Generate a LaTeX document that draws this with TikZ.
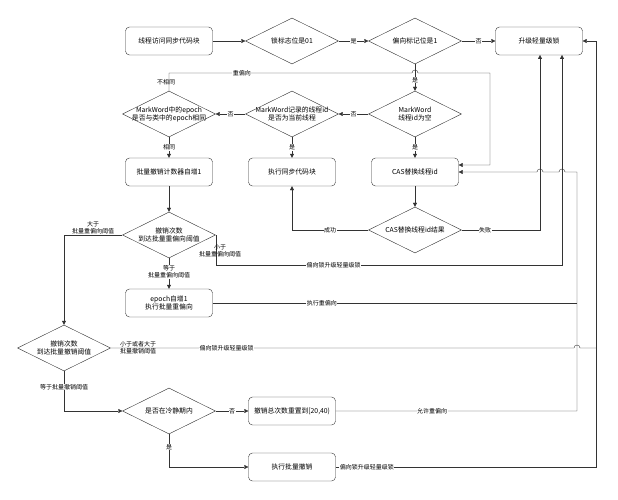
\documentclass[tikz,border=0pt]{standalone}
\usepackage{fontspec}
\setmainfont{Noto Sans CJK SC}
\usetikzlibrary{shapes.geometric,arrows.meta}
\begin{document}
\begin{tikzpicture}[x=1pt,y=-1pt,font=\fontsize{6.8}{8}\selectfont,
  box/.style={draw=black!80,rounded corners=4pt,minimum width=87pt,minimum height=28pt,align=center,inner sep=1pt},
  dia/.style={draw=black!80,diamond,minimum width=93pt,minimum height=46pt,inner sep=0pt,label={[align=center,inner sep=0pt]center:#1}},
  ar/.style={draw=black!80,-{Triangle[length=4pt,width=4pt]}},
  ln/.style={draw=black!80},
  lab/.style={fill=white,inner sep=0.5pt,font=\fontsize{6}{7}\selectfont,align=center},
  lbl/.style={inner sep=0.5pt,font=\fontsize{6}{7}\selectfont,align=center}]
\useasboundingbox (0,0) rectangle (618,500);
\node[box] (s) at (169,41) {线程访问同步代码块};
\node[dia={锁标志位是01}] (d1) at (292,41) {};
\node[dia={偏向标记位是1}] (d2) at (415,41) {};
\node[box] (up) at (539,41) {升级轻量级锁};
\node[dia={MarkWord\\线程id为空}] (d3) at (415,114) {};
\node[dia={MarkWord记录的线程id\\是否为当前线程}] (d4) at (292,114) {};
\node[dia={MarkWord中的epoch\\是否与类中的epoch相同}] (d5) at (169,114) {};
\node[box] (r1) at (169,172) {批量撤销计数器自增1};
\node[box] (r2) at (292,172) {执行同步代码块};
\node[box] (r3) at (415,172) {CAS替换线程id};
\node[dia={CAS替换线程id结果}] (d6) at (415,230) {};
\node[dia={撤销次数\\到达批量重偏向阈值}] (d7) at (169,235) {};
\node[box] (r4) at (169,303) {epoch自增1\\执行批量重偏向};
\node[dia={撤销次数\\到达批量撤销阈值}] (d8) at (64,348) {};
\node[dia={是否在冷静期内}] (d9) at (169,411) {};
\node[box] (r5) at (292,411) {撤销总次数重置到[20,40)};
\node[box] (r6) at (292,467) {执行批量撤销};

\draw[ar] (s) -- (d1);
\draw[ar] (d1) -- node[lab]{是} (d2);
\draw[ar] (d2) -- node[lab]{否} (up);
\draw[ar] (d2) -- node[lab,pos=0.6]{是} (d3);
\draw[ar] (d3) -- node[lab]{否} (d4);
\draw[ar] (d4) -- node[lab]{否} (d5);
\draw[ar] (d4) -- node[lab]{是} (r2);
\draw[ar] (d3) -- node[lab]{是} (r3);
\draw[ar] (d5) -- node[lab]{相同} (r1);
\draw[ar] (r1) -- (d7);
\draw[ar] (r3) -- (d6);
% re-bias loop
\draw[ar] (d5.north) -- (169,73) -- node[lab,pos=0.3]{重偏向} (412,73) arc[start angle=180,end angle=360,radius=3] -- (490,73) -- (490,165) -- (r3.east |- 0,165);
\node[lbl,fill=white] at (166,82) {不相同};
\draw[ar] (d6.west) -- node[lab]{成功} (r2 |- d6.west) -- (r2.south);
\draw[ar] (d6.east) -- node[lab,pos=0.3]{失败} (540,230) -- (540,55);
% d7
\draw[ar] (d7.east) -- (216,235) -- (216,265) -- node[lab,pos=0.34]{偏向锁升级轻量级锁} (562,265) -- (562,55);
\node[lbl] at (220,251) {小于\\批量重偏向阈值};
\draw[ar] (d7.west) -- (64,235) -- (d8.north);
\node[lbl] at (93,228) {大于\\批量重偏向阈值};
\draw[ar] (d7.south) -- node[lab,pos=0.45]{等于\\批量重偏向阈值} (r4.north);
% r4, r5 to r3
\draw[ln] (r4.east) -- node[lab,pos=0.3]{执行重偏向} (577,303);
\draw[ar] (r5.east) -- node[lab,pos=0.4]{允许重偏向} (577,411) -- (577,172) -- (565,172) arc[start angle=0,end angle=-180,radius=3] -- (543,172) arc[start angle=0,end angle=-180,radius=3] -- (r3.east);
% d8
\draw[ln] (d8.east) -- node[lab,pos=0.25]{偏向锁升级轻量级锁} (574,348) arc[start angle=180,end angle=360,radius=3] -- (596,348);
\node[lbl] at (138,348) {小于或者大于\\批量撤销阈值};
\draw[ar] (d8.south) -- node[lab,pos=0.4]{等于批量撤销阈值} (64,411) -- (d9.west);
\draw[ar] (d9) -- node[lab]{否} (r5);
\draw[ar] (d9.south) -- node[lab,pos=0.4]{是} (169,467) -- (r6.west);
\draw[ar] (r6.east) -- node[lab,pos=0.12]{偏向锁升级轻量级锁} (596,467) -- (596,41) -- (up.east);
\end{tikzpicture}
\end{document}
